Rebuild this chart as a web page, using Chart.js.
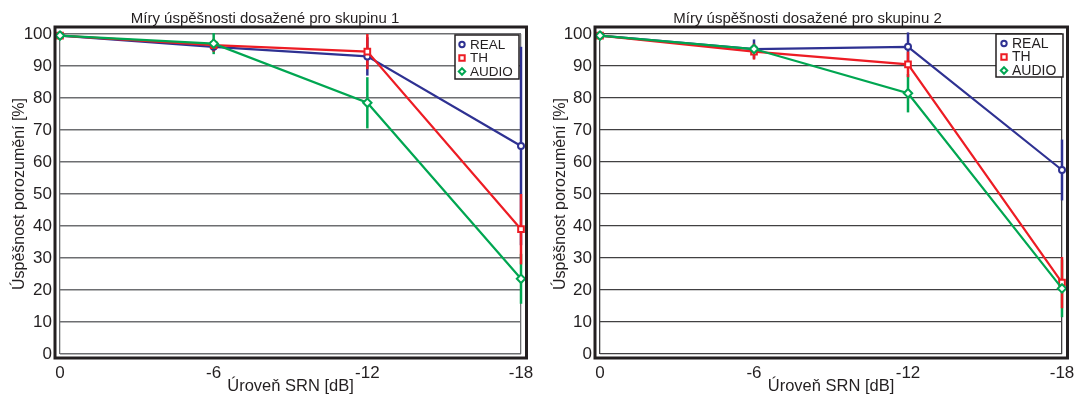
<!DOCTYPE html>
<html lang="cs">
<head>
<meta charset="utf-8">
<title>Míry úspěšnosti dosažené pro skupiny 1 a 2</title>
<script src="https://cdn.jsdelivr.net/npm/chart.js@4/dist/chart.umd.min.js"></script>
<style>
  html, body { margin: 0; padding: 0; background: #fff; }
  #wrap { position: relative; width: 1077px; height: 394px; overflow: hidden; }
  #c1 { position: absolute; left: 0; top: 0; }
  #c2 { position: absolute; left: 536px; top: 0; }
</style>
</head>
<body>
<div id="wrap">
  <canvas id="c1" width="536" height="394"></canvas>
  <canvas id="c2" width="541" height="394"></canvas>
</div>
<script>
// SRN levels [dB] and their axis labels
const srnLevels = [0, -6, -12, -18];
const srnTickLabels = ['0', '-6', '-12', '-18'];
const seriesNames = ['REAL', 'TH', 'AUDIO'];

// Group 1: mean intelligibility [%] and error bar half-widths
const g1Real = [99.5, 96, 93, 65];
const g1RealErr = [0, 1.5, 6, 31];
const g1Th = [99.5, 96.5, 94.5, 39];
const g1ThErr = [0, 2, 5.5, 11];
const g1Audio = [99.5, 97, 78.5, 23.5];
const g1AudioErr = [0, 3.3, 8, 7.8];

// Group 2
const g2Real = [99.5, 95.3, 96, 57.5];
const g2RealErr = [0, 3, 4.5, 9.5];
const g2Th = [99.5, 94.5, 90.5, 22.3];
const g2ThErr = [0, 2.5, 4, 8];
const g2Audio = [99.5, 95.3, 81.5, 20.5];
const g2AudioErr = [0, 1.5, 6, 9];

const INK = '#231f20';
const FONT = "'Liberation Sans', Arial, Helvetica, sans-serif";
const colors = ['#2e3192', '#ed1c24', '#00a651'];
const styles = ['circle', 'rect', 'rectRot'];
const radii = [3, 4, 4.2];

function drawMarker(ctx, style, x, y, size, color) {
  ctx.save();
  ctx.strokeStyle = color;
  ctx.fillStyle = '#fff';
  ctx.lineWidth = 2;
  ctx.beginPath();
  if (style === 'circle') {
    ctx.arc(x, y, size, 0, Math.PI * 2);
  } else if (style === 'rect') {
    ctx.rect(x - size, y - size, 2 * size, 2 * size);
  } else {
    const d = size * 1.25;
    ctx.moveTo(x, y - d); ctx.lineTo(x + d, y); ctx.lineTo(x, y + d); ctx.lineTo(x - d, y);
    ctx.closePath();
  }
  ctx.fill();
  ctx.stroke();
  ctx.restore();
}

// vertical error bars, drawn under the lines and markers
const errorBarPlugin = {
  id: 'errorBars',
  beforeDatasetsDraw(chart, args, opts) {
    const ctx = chart.ctx, xs = chart.scales.x, ys = chart.scales.y;
    ctx.save();
    ctx.lineWidth = opts.width;
    opts.order.forEach(i => {
      const ds = chart.data.datasets[i];
      ctx.strokeStyle = ds.borderColor;
      ds.data.forEach((p, j) => {
        const e = ds.errorBars[j];
        if (!e) return;
        const px = xs.getPixelForValue(p.x);
        ctx.beginPath();
        ctx.moveTo(px, ys.getPixelForValue(p.y + e));
        ctx.lineTo(px, ys.getPixelForValue(p.y - e));
        ctx.stroke();
      });
    });
    ctx.restore();
  }
};

// heavy frame around the plot
const framePlugin = {
  id: 'plotFrame',
  afterDraw(chart, args, o) {
    const ca = chart.chartArea, ctx = chart.ctx;
    ctx.save();
    ctx.strokeStyle = INK;
    ctx.lineWidth = o.width;
    ctx.strokeRect(ca.left - o.left, ca.top - o.top,
      (ca.right + o.right) - (ca.left - o.left), (ca.bottom + o.bottom) - (ca.top - o.top));
    ctx.restore();
  }
};

// boxed legend in the upper right corner of the plot
const boxLegendPlugin = {
  id: 'boxLegend',
  afterDraw(chart, args, o) {
    const ca = chart.chartArea, ctx = chart.ctx;
    const right = ca.right + o.dxRight;
    const left = right - o.width;
    const top = ca.top + o.dyTop;
    ctx.save();
    ctx.fillStyle = '#fff';
    ctx.fillRect(left, top, o.width, o.height);
    ctx.strokeStyle = INK;
    ctx.lineWidth = 1.5;
    ctx.strokeRect(left, top, o.width, o.height);
    ctx.font = o.fontSize + 'px ' + FONT;
    ctx.textBaseline = 'middle';
    ctx.textAlign = 'left';
    chart.data.datasets.forEach((ds, i) => {
      const y = top + o.firstRow + i * o.rowGap;
      drawMarker(ctx, ds.pointStyle, left + o.markerX, y, o.markerSize[i], ds.borderColor);
      ctx.fillStyle = INK;
      ctx.fillText(ds.label, left + o.textX, y + 0.5);
    });
    ctx.restore();
  }
};

function makeDatasets(values, errs) {
  return values.map((vals, k) => ({
    label: seriesNames[k],
    data: srnLevels.map((x, i) => ({ x: x, y: vals[i] })),
    errorBars: errs[k],
    borderColor: colors[k],
    backgroundColor: '#fff',
    borderWidth: 2.2,
    pointStyle: styles[k],
    pointRadius: radii[k],
    pointBorderWidth: 2,
    pointBackgroundColor: '#fff',
    pointBorderColor: colors[k],
    tension: 0,
    clip: false,
    order: 3 - k
  }));
}

function makeChart(canvas, title, values, errs, lay) {
  return new Chart(canvas, {
    type: 'line',
    data: { datasets: makeDatasets(values, errs) },
    plugins: [errorBarPlugin, framePlugin, boxLegendPlugin],
    options: {
      responsive: false,
      animation: false,
      devicePixelRatio: 1,
      events: [],
      layout: { padding: { left: lay.padLeft, right: lay.padRight, top: 0, bottom: 0 } },
      scales: {
        x: {
          type: 'linear',
          reverse: true,
          min: -18,
          max: 0,
          afterBuildTicks: s => { s.ticks = srnLevels.map(v => ({ value: v })); },
          afterFit: s => { s.height = 40; s.paddingLeft = 0; s.paddingRight = 0; },
          grid: {
            drawTicks: false,
            lineWidth: 1.3,
            color: c => (c.tick && (c.tick.value === 0 || c.tick.value === -18)) ? lay.gridColor : 'rgba(0,0,0,0)'
          },
          border: { display: false },
          ticks: {
            padding: 9,
            autoSkip: false,
            maxRotation: 0,
            color: INK,
            font: { family: FONT, size: 17 },
            callback: v => srnTickLabels[srnLevels.indexOf(v)]
          },
          title: {
            display: true,
            text: 'Úroveň SRN [dB]',
            color: INK,
            font: { family: FONT, size: 16.5, lineHeight: 1 },
            padding: { top: 0, bottom: -1 }
          }
        },
        y: {
          min: 0,
          max: 100,
          afterFit: s => { s.width = lay.yWidth; },
          grid: { drawTicks: false, lineWidth: lay.gridWidth, color: lay.gridColor },
          border: { display: false },
          ticks: {
            stepSize: 10,
            padding: 8,
            color: INK,
            font: { family: FONT, size: 17 }
          },
          title: {
            display: true,
            text: 'Úspěšnost porozumění [%]',
            color: INK,
            font: { family: FONT, size: 16, lineHeight: 1 },
            padding: { top: lay.yTitlePad, bottom: 0 }
          }
        }
      },
      plugins: {
        legend: { display: false },
        tooltip: { enabled: false },
        title: {
          display: true,
          text: title,
          color: INK,
          font: { family: FONT, size: 15, weight: 'normal', lineHeight: 1.2 },
          padding: { top: 9.5, bottom: 6.5 }
        },
        errorBars: { width: 2.5, order: [0, 2, 1] },
        plotFrame: { width: 3, left: 5, top: 7, right: 5.5, bottom: 4 },
        boxLegend: lay.legend
      }
    }
  });
}

makeChart(document.getElementById('c1'), 'Míry úspěšnosti dosažené pro skupinu 1',
  [g1Real, g1Th, g1Audio], [g1RealErr, g1ThErr, g1AudioErr],
  {
    padLeft: 9, padRight: 15, yWidth: 51, yTitlePad: 3,
    gridColor: '#6d6e71', gridWidth: 1.4,
    legend: { dxRight: -2, width: 64, height: 44, dyTop: 1, firstRow: 9.5, rowGap: 13.5,
      markerX: 7, textX: 15, fontSize: 13.5, markerSize: [2.7, 2.7, 2.6] }
  });

makeChart(document.getElementById('c2'), 'Míry úspěšnosti dosažené pro skupinu 2',
  [g2Real, g2Th, g2Audio], [g2RealErr, g2ThErr, g2AudioErr],
  {
    padLeft: 17, padRight: 15, yWidth: 47, yTitlePad: 0,
    gridColor: '#414042', gridWidth: 1.2,
    legend: { dxRight: 1, width: 67, height: 43, dyTop: 0, firstRow: 9.5, rowGap: 13.5,
      markerX: 8, textX: 16, fontSize: 14, markerSize: [2.7, 2.7, 2.6] }
  });
</script>
</body>
</html>
